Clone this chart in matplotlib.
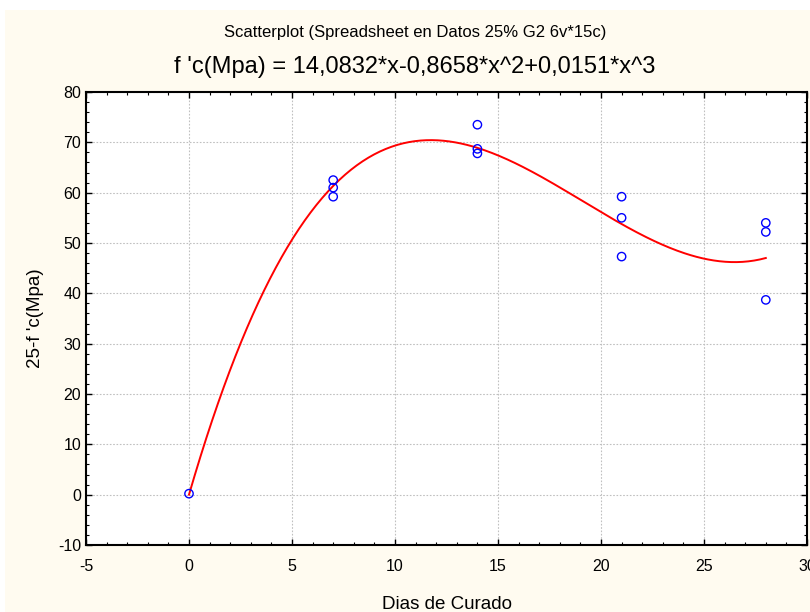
import numpy as np
import matplotlib
matplotlib.use("Agg")
import matplotlib.pyplot as plt
from matplotlib.patches import Rectangle
from matplotlib.ticker import MultipleLocator

plt.rcParams['font.family'] = ['Liberation Sans', 'DejaVu Sans']
plt.rcParams['axes.unicode_minus'] = False

# datos
dias = [0, 7, 7, 7, 14, 14, 14, 21, 21, 21, 28, 28, 28]
fc = [0.2, 62.5, 61.0, 59.2, 73.5, 68.7, 67.8, 59.2, 55.0, 47.3, 54.0, 52.2, 38.7]

# coeficientes del ajuste (titulo)
coef = [14.0832, -0.8658, 0.0151]

fig = plt.figure(figsize=(8.1, 6.12), dpi=100)
fig.patch.set_facecolor('white')
fig.patches.append(Rectangle((5/810, 0), 1, 1 - 10/612, transform=fig.transFigure,
                             facecolor='#fffbf0', edgecolor='none', zorder=-10))

ax = fig.add_axes([86/810, 1 - 545/612, (807 - 86)/810, (545 - 92)/612])
ax.set_facecolor('white')

xs = np.linspace(0, 28, 300)
ys = coef[0]*xs + coef[1]*xs**2 + coef[2]*xs**3
ax.plot(xs, ys, color='red', lw=1.4, zorder=3)
ax.scatter(dias, fc, s=36, facecolors='none', edgecolors='blue', linewidths=1.0, zorder=4)

ax.set_xlim(-5, 30)
ax.set_ylim(-10, 80)
ax.xaxis.set_major_locator(MultipleLocator(5))
ax.yaxis.set_major_locator(MultipleLocator(10))
ax.xaxis.set_minor_locator(MultipleLocator(1))
ax.yaxis.set_minor_locator(MultipleLocator(2))
ax.tick_params(which='both', direction='in', top=True, right=True, labeltop=False, labelright=False)
ax.tick_params(which='major', length=4, width=1, labelsize=11.5)
ax.tick_params(which='minor', length=2, width=0.8)
ax.tick_params(axis='x', pad=10)
ax.grid(True, which='major', color='#c0c0c0', linestyle=(0, (1.5, 1.5)), linewidth=0.8)
for s in ax.spines.values():
    s.set_linewidth(1.5)

ax.set_xlabel('Dias de Curado', fontsize=13.5, labelpad=16)
ax.set_ylabel("25-f 'c(Mpa)", fontsize=13.5, labelpad=10)

fig.text(415/810, 1 - 33/612, 'Scatterplot (Spreadsheet en Datos 25% G2 6v*15c)',
         ha='center', va='center', fontsize=12)
fig.text(415/810, 1 - 67/612, "f 'c(Mpa) = 14,0832*x-0,8658*x^2+0,0151*x^3",
         ha='center', va='center', fontsize=17)

fig.savefig('out.png', dpi=100)
